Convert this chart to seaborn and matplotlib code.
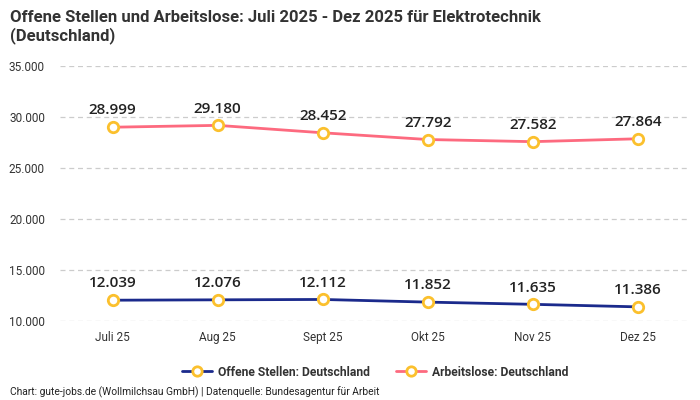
import matplotlib
matplotlib.use("Agg")
import matplotlib.pyplot as plt
import matplotlib.ticker as mticker
import seaborn as sns
import pandas as pd

sns.set_theme(style="white")
plt.rcParams['font.family'] = ['Roboto', 'DejaVu Sans']

# Daten
monate = ["Juli 25", "Aug 25", "Sept 25", "Okt 25", "Nov 25", "Dez 25"]
offene_stellen = [12039, 12076, 12112, 11852, 11635, 11386]
arbeitslose = [28999, 29180, 28452, 27792, 27582, 27864]
y_ticks = [10000, 15000, 20000, 25000, 30000, 35000]

df = pd.DataFrame({
    "Monat": monate * 2,
    "x": list(range(len(monate))) * 2,
    "Wert": offene_stellen + arbeitslose,
    "Reihe": ["Offene Stellen: Deutschland"] * len(monate) + ["Arbeitslose: Deutschland"] * len(monate),
})

farben = {"Offene Stellen: Deutschland": "#1b2a8c", "Arbeitslose: Deutschland": "#fd6a7f"}

fig = plt.figure(figsize=(7, 4), dpi=100)
ax = fig.add_axes([0.086, 0.1975, 0.9, 0.6375])

sns.lineplot(data=df, x="x", y="Wert", hue="Reihe", palette=farben, ax=ax,
             linewidth=2, marker="o", markersize=7.5, markerfacecolor="white",
             markeredgecolor="#fbc02d", markeredgewidth=2, legend=True)

for _, r in df.iterrows():
    ax.annotate(f"{r['Wert']:,}".replace(",", "."), (r["x"], r["Wert"]),
                xytext=(0, 7), textcoords="offset points", ha="center", va="bottom",
                fontsize=11, color="#222222", family=["Open Sans", "DejaVu Sans"], weight=600)

ax.set_xlim(-0.5, len(monate) - 0.5)
ax.set_ylim(10000, 35000)
ax.set_yticks(y_ticks)
ax.yaxis.set_major_formatter(mticker.FuncFormatter(lambda v, p: f"{int(v):,}".replace(",", ".")))
ax.set_xticks(range(len(monate)))
ax.set_xticklabels(monate)
ax.tick_params(axis="both", labelsize=8.5, colors="#333333", length=0)
ax.tick_params(axis="x", pad=7)
ax.tick_params(axis="y", pad=11)
ax.yaxis.grid(True, linestyle=(0, (4, 3)), color="#cccccc", linewidth=0.9)
ax.set_axisbelow(True)
for s in ax.spines.values():
    s.set_visible(False)
ax.set_xlabel("")
ax.set_ylabel("")

h, l = ax.get_legend_handles_labels()
ax.legend(h, l, loc="center", bbox_to_anchor=(0.5, -0.2), ncol=2, frameon=False,
          prop={"weight": "bold", "size": 8.7}, labelcolor="#333333",
          handlelength=2.5, handletextpad=0.5, columnspacing=2.2, markerscale=0.9)

fig.text(0.014, 0.975, "Offene Stellen und Arbeitslose: Juli 2025 - Dez 2025 für Elektrotechnik\n(Deutschland)",
         ha="left", va="top", fontsize=12, weight="bold", color="#333333", linespacing=1.15)
fig.text(0.014, 0.005, "Chart: gute-jobs.de (Wollmilchsau GmbH) | Datenquelle: Bundesagentur für Arbeit",
         ha="left", va="bottom", fontsize=7.4, color="#222222")

fig.savefig("out.png", dpi=100)
